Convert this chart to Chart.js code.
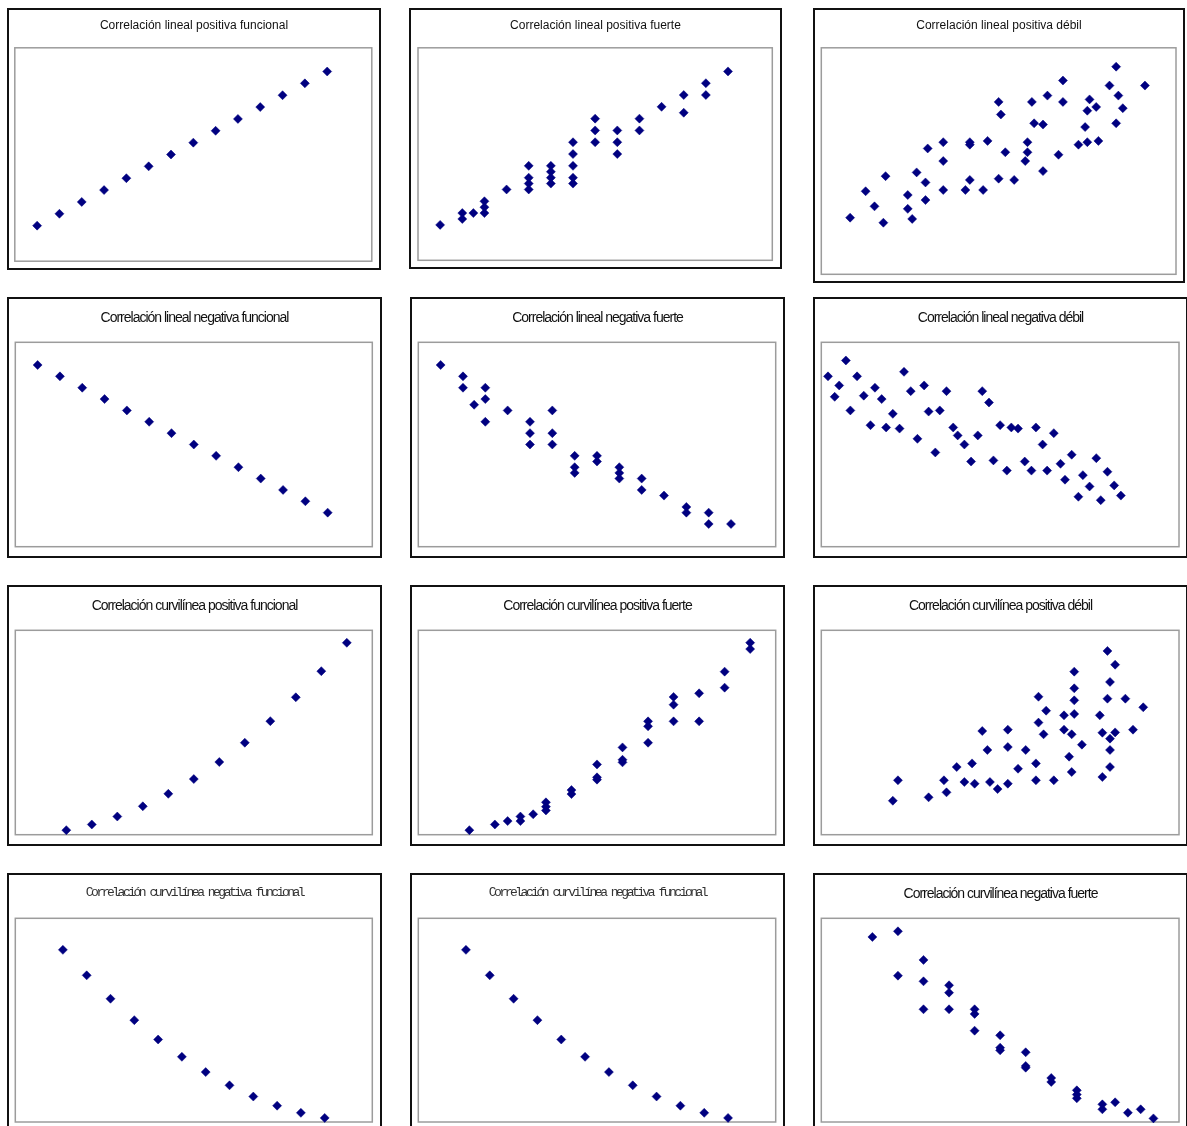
<!DOCTYPE html>
<html>
<head>
<meta charset="utf-8">
<script src="https://cdn.jsdelivr.net/npm/chart.js@4/dist/chart.umd.min.js"></script>
<style>
  body { margin: 0; background: #fff; }
  #page { position: relative; width: 1187px; height: 1126px; overflow: hidden; background: #fff; }
  .panel { position: absolute; box-sizing: border-box; border: 2px solid #111; background: #fff; }
  .panel canvas { position: absolute; left: 0; top: 0; display: block; }
  .title { position: absolute; left: 0; right: 0; text-align: center; white-space: nowrap; color: #111; line-height: 1; z-index: 2; }
  .t1 { font: 12px "Liberation Sans", Arial, sans-serif; top: 8px; }
  .t2 { font: 14px "Liberation Sans", Arial, sans-serif; letter-spacing: -1px; top: 9.5px; }
  .t3 { font: 13px "Liberation Mono", "Courier New", monospace; letter-spacing: -2.5px; color: #333; top: 10px; }
</style>
</head>
<body>
<div id="page"></div>
<script>
// --- data ---
const linPosFuncX = [1, 2, 3, 4, 5, 6, 7, 8, 9, 10, 11, 12, 13, 14];
const linPosFuncY = [1, 2, 3, 4, 5, 6, 7, 8, 9, 10, 11, 12, 13, 14];

const linPosFuerteX = [1, 2, 2, 2.5, 3, 3, 3, 4, 5, 5, 5, 5, 6, 6, 6, 6, 7, 7, 7, 7, 7, 8, 8, 8, 9, 9, 9, 10, 10, 11, 12, 12, 13, 13, 14];
const linPosFuerteY = [1, 2, 1.5, 2, 3, 2.5, 2, 4, 6, 5, 4.5, 4, 6, 5.5, 5, 4.5, 8, 7, 6, 5, 4.5, 10, 9, 8, 9, 8, 7, 10, 9, 11, 12, 10.5, 13, 12, 14];

const linPosDebilX = [1.3, 2.0, 2.4, 2.8, 2.9, 3.9, 3.9, 4.1, 4.3, 4.7, 4.7, 4.8, 5.5, 5.5, 5.5, 6.5, 6.7, 6.7, 6.7, 7.3, 7.5, 8.0, 8.1, 8.0, 8.3, 8.7, 9.2, 9.3, 9.3, 9.5, 9.6, 10.0, 10.0, 10.2, 10.7, 10.9, 10.9, 11.6, 11.9, 12.0, 12.0, 12.1, 12.4, 12.5, 13.0, 13.3, 13.4, 13.6, 13.3, 14.6];
const linPosDebilY = [2.5, 4.6, 3.4, 2.1, 5.8, 4.3, 3.2, 2.4, 6.1, 5.3, 3.9, 8.0, 8.5, 7.0, 4.7, 4.7, 8.5, 8.3, 5.5, 4.7, 8.6, 11.7, 10.7, 5.6, 7.7, 5.5, 7.0, 8.5, 7.7, 11.7, 10.0, 9.9, 6.2, 12.2, 7.5, 13.4, 11.7, 8.3, 9.7, 11.0, 8.5, 11.9, 11.3, 8.6, 13.0, 14.5, 12.2, 11.2, 10.0, 13.0];

const linNegFuncX = [1, 2, 3, 4, 5, 6, 7, 8, 9, 10, 11, 12, 13, 14];
const linNegFuncY = [14, 13, 12, 11, 10, 9, 8, 7, 6, 5, 4, 3, 2, 1];

const linNegFuerteX = [1, 2, 2, 2.5, 3, 3, 3, 4, 5, 5, 5, 6, 6, 6, 7, 7, 7, 8, 8, 9, 9, 9, 10, 10, 11, 12, 12, 13, 13, 14];
const linNegFuerteY = [14, 13, 12, 10.5, 12, 11, 9, 10, 9, 8, 7, 10, 8, 7, 6, 5, 4.5, 6, 5.5, 5, 4.5, 4, 4, 3, 2.5, 1.5, 1, 1, 0, 0];

const linNegDebilX = [0.3, 0.6, 0.8, 1.1, 1.3, 1.6, 1.9, 2.2, 2.4, 2.7, 2.9, 3.2, 3.5, 3.7, 4.0, 4.3, 4.6, 4.8, 5.1, 5.3, 5.6, 5.9, 6.1, 6.4, 6.7, 7.0, 7.2, 7.5, 7.7, 8.0, 8.3, 8.5, 8.8, 9.1, 9.4, 9.6, 9.9, 10.1, 10.4, 10.7, 10.9, 11.2, 11.5, 11.7, 12.0, 12.3, 12.5, 12.8, 13.1, 13.4];
const linNegDebilY = [13.0, 11.2, 12.2, 14.4, 10.0, 13.0, 11.3, 8.7, 12.0, 11.0, 8.5, 9.7, 8.4, 13.4, 11.7, 7.5, 12.2, 9.9, 6.3, 10.0, 11.7, 8.5, 7.8, 7.0, 5.5, 7.8, 11.7, 10.7, 5.6, 8.7, 4.7, 8.5, 8.4, 5.5, 4.7, 8.5, 7.0, 4.7, 8.0, 5.3, 3.9, 6.1, 2.4, 4.3, 3.3, 5.8, 2.1, 4.6, 3.4, 2.5];

const curvPosFuncX = [2, 3, 4, 5, 6, 7, 8, 9, 10, 11, 12, 13];
const curvPosFuncY = [4, 9, 16, 25, 36, 49, 64, 81, 100, 121, 144, 169];

const curvPosFuerteX = [2, 3, 3.5, 4, 4, 4.5, 5, 5, 5, 6, 6, 7, 7, 7, 8, 8, 8, 9, 9, 9, 10, 10, 10, 11, 11, 12, 12, 13, 13];
const curvPosFuerteY = [4, 9, 12, 16, 12, 18, 28.5, 24.7, 21.4, 39.3, 35.8, 61.9, 50.5, 48.5, 76.9, 66, 63.7, 99.8, 95.4, 81, 121.3, 114.5, 99.8, 124.5, 99.8, 143.6, 129.5, 169.1, 163.5];

const curvPosDebilX = [2.8, 3.0, 4.2, 4.8, 4.9, 5.3, 5.6, 5.9, 6.0, 6.3, 6.5, 6.6, 6.9, 7.3, 7.3, 7.3, 7.7, 8.0, 8.4, 8.4, 8.5, 8.5, 8.7, 8.8, 9.1, 9.5, 9.5, 9.7, 9.8, 9.8, 9.9, 9.9, 9.9, 9.9, 10.2, 10.9, 11.0, 11.0, 11.2, 11.2, 11.3, 11.3, 11.3, 11.3, 11.5, 11.5, 11.9, 12.2, 12.6];
const curvPosDebilY = [29.9, 47.9, 32.9, 47.9, 37.3, 59.6, 46.4, 62.8, 44.9, 91.3, 74.6, 46.4, 40.2, 92.5, 77.2, 44.9, 58.1, 74.6, 62.8, 47.9, 121.5, 98.7, 88.4, 109.2, 47.9, 105.1, 92.5, 68.7, 88.4, 55.2, 143.6, 128.9, 118.3, 106.3, 79.3, 105.1, 89.8, 50.8, 161.8, 119.8, 134.5, 84.6, 74.6, 59.6, 149.7, 90.1, 119.8, 92.5, 112.2];

const curvNegFuncX = [2, 3, 4, 5, 6, 7, 8, 9, 10, 11, 12, 13];
const curvNegFuncY = [169, 144, 121, 100, 81, 64, 49, 36, 25, 16, 9, 4];

const curvNegFuerteX = [2, 3, 3, 4, 4, 4, 5, 5, 5, 6, 6, 6, 7, 7, 7, 8, 8, 8, 9, 9, 10, 10, 10, 11, 11, 11.5, 12, 12.5, 13];
const curvNegFuerteY = [163.5, 168.5, 129.3, 143.2, 124.3, 99.6, 120.8, 114.3, 99.6, 99.6, 95.5, 80.7, 76.6, 65.7, 63.3, 61.6, 49.5, 48, 38.9, 35.4, 28, 24.2, 20.9, 15.6, 11.2, 17.4, 8.2, 11.2, 3.2];

// axis ranges
const linXRange = [0, 16], linYRange = [-2, 16];
const curvXRange = [0, 14], curvYRange = [0, 180];
const curvNegFuncXRange = [0, 15], curvNegFuncYRange = [0, 200];

// layout: outer box [l, t, r, b] and plot frame [l, t, r, b], in page px
const panels = [
  {title: 'Correlación lineal positiva funcional', font: 't1', outer: [7, 8, 381, 270], inner: [14.8, 47.8, 371.8, 261.2], xr: linXRange, yr: linYRange, xs: linPosFuncX, ys: linPosFuncY},
  {title: 'Correlación lineal positiva fuerte', font: 't1', outer: [409, 8, 782, 269], inner: [418, 47.8, 772.3, 260.3], xr: linXRange, yr: linYRange, xs: linPosFuerteX, ys: linPosFuerteY},
  {title: 'Correlación lineal positiva débil', font: 't1', outer: [813, 8, 1185, 283], inner: [821.3, 47.8, 1176, 274.3], xr: linXRange, yr: linYRange, xs: linPosDebilX, ys: linPosDebilY},

  {title: 'Correlación lineal negativa funcional', font: 't2', outer: [7, 297, 382, 558], inner: [15.3, 342.3, 372.3, 546.7], xr: linXRange, yr: linYRange, xs: linNegFuncX, ys: linNegFuncY},
  {title: 'Correlación lineal negativa fuerte', font: 't2', outer: [410, 297, 785, 558], inner: [418.3, 342.3, 775.7, 546.7], xr: linXRange, yr: linYRange, xs: linNegFuerteX, ys: linNegFuerteY},
  {title: 'Correlación lineal negativa débil', font: 't2', outer: [813, 297, 1188, 558], inner: [821.3, 342.3, 1179, 546.7], xr: linXRange, yr: linYRange, xs: linNegDebilX, ys: linNegDebilY},

  {title: 'Correlación curvilínea positiva funcional', font: 't2', outer: [7, 585, 382, 846], inner: [15.3, 630.3, 372.3, 834.7], xr: curvXRange, yr: curvYRange, xs: curvPosFuncX, ys: curvPosFuncY},
  {title: 'Correlación curvilínea positiva fuerte', font: 't2', outer: [410, 585, 785, 846], inner: [418.3, 630.3, 775.7, 834.7], xr: curvXRange, yr: curvYRange, xs: curvPosFuerteX, ys: curvPosFuerteY},
  {title: 'Correlación curvilínea positiva débil', font: 't2', outer: [813, 585, 1188, 846], inner: [821.3, 630.3, 1179, 834.7], xr: curvXRange, yr: curvYRange, xs: curvPosDebilX, ys: curvPosDebilY},

  {title: 'Correlación curvilínea negativa funcional', font: 't3', outer: [7, 873, 382, 1136], inner: [15.3, 918.3, 372.3, 1122], xr: curvNegFuncXRange, yr: curvNegFuncYRange, xs: curvNegFuncX, ys: curvNegFuncY},
  {title: 'Correlación curvilínea negativa funcional', font: 't3', outer: [410, 873, 785, 1136], inner: [418.3, 918.3, 775.7, 1122], xr: curvNegFuncXRange, yr: curvNegFuncYRange, xs: curvNegFuncX, ys: curvNegFuncY},
  {title: 'Correlación curvilínea negativa fuerte', font: 't2', outer: [813, 873, 1188, 1136], inner: [821.3, 918.3, 1179, 1122], xr: curvXRange, yr: curvYRange, xs: curvNegFuerteX, ys: curvNegFuerteY}
];

// gray frame round the plot area
const plotFrame = {
  id: 'plotFrame',
  beforeDatasetsDraw(chart) {
    const {ctx, chartArea: a} = chart;
    ctx.save();
    ctx.strokeStyle = '#9c9c9c';
    ctx.lineWidth = 1.5;
    ctx.strokeRect(a.left, a.top, a.right - a.left, a.bottom - a.top);
    ctx.restore();
  }
};

const page = document.getElementById('page');
const B = 2; // panel border width

panels.forEach(function(p) {
  const [ol, ot, or, ob] = p.outer;
  const [il, it, ir, ib] = p.inner;

  const box = document.createElement('div');
  box.className = 'panel';
  box.style.left = ol + 'px';
  box.style.top = ot + 'px';
  box.style.width = (or - ol) + 'px';
  box.style.height = (ob - ot) + 'px';

  const title = document.createElement('div');
  title.className = 'title ' + p.font;
  title.textContent = p.title;
  box.appendChild(title);

  const w = or - ol - 2 * B;
  const h = ob - ot - 2 * B;
  const canvas = document.createElement('canvas');
  canvas.width = w;
  canvas.height = h;
  canvas.style.width = w + 'px';
  canvas.style.height = h + 'px';
  box.appendChild(canvas);
  page.appendChild(box);

  new Chart(canvas, {
    type: 'scatter',
    data: {
      datasets: [{
        data: p.xs.map((x, i) => ({x: x, y: p.ys[i]})),
        pointStyle: 'rectRot',
        pointRadius: 4.5,
        pointBackgroundColor: '#000080',
        pointBorderColor: '#000080',
        pointBorderWidth: 0.5,
        clip: false
      }]
    },
    options: {
      responsive: false,
      animation: false,
      events: [],
      layout: {
        padding: {
          left: il - (ol + B),
          top: it - (ot + B),
          right: (or - B) - ir,
          bottom: (ob - B) - ib
        }
      },
      plugins: {
        legend: {display: false},
        title: {display: false},
        tooltip: {enabled: false}
      },
      scales: {
        x: {type: 'linear', display: false, min: p.xr[0], max: p.xr[1]},
        y: {type: 'linear', display: false, min: p.yr[0], max: p.yr[1]}
      }
    },
    plugins: [plotFrame]
  });
});
</script>
</body>
</html>
